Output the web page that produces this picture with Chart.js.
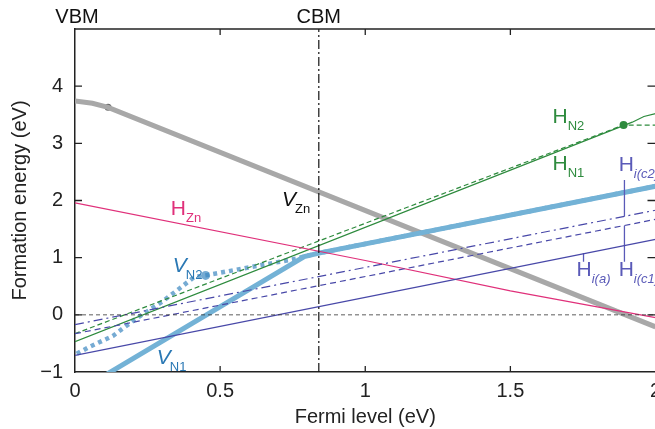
<!DOCTYPE html>
<html>
<head>
<meta charset="utf-8">
<script src="https://cdn.jsdelivr.net/npm/chart.js@4.4.0/dist/chart.umd.min.js"></script>
<style>
  html, body { margin: 0; padding: 0; background: #fff; overflow: hidden; }
  canvas { display: block; }
</style>
</head>
<body>
<canvas id="grafico" width="660" height="429"></canvas>
<script>
/* DATOS */
const xTicks = [0, 0.5, 1, 1.5, 2]
const yTicks = [-1, 0, 1, 2, 3, 4, 5]
const cbm = 0.84

const vznX = [0, 0.06, 0.114, 2]
const vznY = [3.74, 3.70, 3.63, -0.21]
const hznX = [0, 1, 1.5, 2]
const hznY = [1.96, 0.95, 0.42, -0.05]
const hn1X = [0, 1.92, 1.96, 2]
const hn1Y = [-0.47, 3.37, 3.47, 3.52]
const hn2X = [0, 1.89, 2]
const hn2Y = [-0.33, 3.32, 3.32]
const vn1X = [0, 0.79, 0.84, 2]
const vn1Y = [-1.37, 1.02, 1.08, 2.25]
const vn2X = [0.006, 0.05, 0.13, 0.21, 0.30, 0.36, 0.41, 0.45, 0.76, 0.79, 0.84, 2]
const vn2Y = [-0.68, -0.56, -0.37, -0.07, 0.23, 0.46, 0.66, 0.69, 0.98, 1.02, 1.08, 2.25]
const hiaX = [0, 2]
const hiaY = [-0.71, 1.32]
const hic1X = [0, 2]
const hic1Y = [-0.33, 1.67]
const hic2X = [0, 2]
const hic2Y = [-0.17, 1.83]

// conectores de las etiquetas H_i
const conAX = [1.752, 1.752]
const conAY = [1.08, 0.93]
const conC1X = [1.893, 1.893]
const conC1Y = [1.56, 0.93]
const conC2X = [1.893, 1.893]
const conC2Y = [2.36, 1.72]

// puntos marcados
const puntoVzn = [0.114, 3.63]
const puntoHn2 = [1.89, 3.32]
const puntoVn2 = [0.45, 0.69]

// etiquetas: [texto, subindice, x, y, color, cursiva]
const etiquetas = [
  ["V", "Zn", 0.713, 1.9, "#111", true],
  ["H", "Zn", 0.33, 1.74, "#e0307a", false],
  ["H", "N2", 1.645, 3.35, "#2e8b3e", false],
  ["H", "N1", 1.645, 2.53, "#2e8b3e", false],
  ["H", "i(c2)", 1.873, 2.51, "#5a5ab8", false],
  ["H", "i(a)", 1.728, 0.68, "#5a5ab8", false],
  ["H", "i(c1)", 1.873, 0.68, "#5a5ab8", false],
  ["V", "N2", 0.337, 0.75, "#2a78b4", true],
  ["V", "N1", 0.282, -0.86, "#2a78b4", true]
]

/* FUNCIONES */
function puntos(xs, ys) {
  return xs.map((x, i) => ({ x: x, y: ys[i] }))
}

function linea(xs, ys, color, ancho, dash) {
  return {
    type: "line",
    data: puntos(xs, ys),
    borderColor: color,
    borderWidth: ancho,
    borderDash: dash || [],
    pointRadius: 0,
    fill: false,
    tension: 0,
    clip: true
  }
}

function marca(p, color, r) {
  return {
    type: "scatter",
    data: [{ x: p[0], y: p[1] }],
    backgroundColor: color,
    borderWidth: 0,
    pointRadius: r
  }
}

const azulHi = "#4848a8"

const datasets = [
  linea([0, 2], [0, 0], "#333", 0.8, [4, 3]),
  linea([cbm, cbm], [-1, 5], "#111", 1.2, [9, 3, 2, 3]),
  linea(hiaX, hiaY, azulHi, 1.2),
  linea(hic1X, hic1Y, azulHi, 1.2, [6, 4]),
  linea(hic2X, hic2Y, azulHi, 1.2, [9, 4, 2, 4]),
  linea(conAX, conAY, "#5a5ab8", 1.3),
  linea(conC1X, conC1Y, "#5a5ab8", 1.3),
  linea(conC2X, conC2Y, "#5a5ab8", 1.3),
  linea(hznX, hznY, "#e0307a", 1.2),
  linea(hn1X, hn1Y, "#2e8b3e", 1.2),
  linea(hn2X, hn2Y, "#2e8b3e", 1.2, [5, 3]),
  linea(vn1X, vn1Y, "rgb(115,178,214)", 5),
  linea(vn2X, vn2Y, "rgba(60,135,192,0.7)", 4.5, [4, 4]),
  linea(vznX, vznY, "#a8a8a8", 5),
  marca(puntoVzn, "#6a6a6a", 3.5),
  marca(puntoHn2, "#2e8b3e", 4),
  marca(puntoVn2, "rgba(60,135,192,0.7)", 4.5)
]

const fuente = "'Liberation Sans', Arial, sans-serif"

const decoraciones = {
  id: "decoraciones",
  afterDraw(chart) {
    const ctx = chart.ctx
    const xs = chart.scales.x
    const ys = chart.scales.y
    const a = chart.chartArea
    ctx.save()
    // borde superior
    ctx.strokeStyle = "#222"
    ctx.lineWidth = 1.5
    ctx.beginPath()
    ctx.moveTo(a.left, a.top)
    ctx.lineTo(a.right, a.top)
    ctx.stroke()
    // marcas hacia adentro
    ctx.lineWidth = 1.3
    xTicks.slice(1, -1).forEach(v => {
      const px = xs.getPixelForValue(v)
      ctx.beginPath()
      ctx.moveTo(px, a.bottom); ctx.lineTo(px, a.bottom - 6)
      ctx.moveTo(px, a.top); ctx.lineTo(px, a.top + 6)
      ctx.stroke()
    })
    yTicks.slice(1, -1).forEach(v => {
      const py = ys.getPixelForValue(v)
      ctx.beginPath()
      ctx.moveTo(a.left, py); ctx.lineTo(a.left + 7, py)
      ctx.moveTo(a.right, py); ctx.lineTo(a.right - 8, py)
      ctx.stroke()
    })
    // VBM / CBM
    ctx.fillStyle = "#111"
    ctx.font = "20px " + fuente
    ctx.textAlign = "center"
    ctx.textBaseline = "alphabetic"
    ctx.fillText("VBM", xs.getPixelForValue(0) + 2, 23)
    ctx.fillText("CBM", xs.getPixelForValue(cbm), 23)
    // etiquetas de las curvas
    ctx.textAlign = "left"
    etiquetas.forEach(e => {
      const px = xs.getPixelForValue(e[2])
      const py = ys.getPixelForValue(e[3])
      ctx.fillStyle = e[4]
      ctx.font = (e[5] ? "italic " : "") + "21px " + fuente
      ctx.fillText(e[0], px, py)
      const w = ctx.measureText(e[0]).width
      const sub = e[1]
      ctx.font = (sub.startsWith("i") ? "italic " : "") + "13px " + fuente
      ctx.fillText(sub, px + w + (e[5] ? -1 : 0), py + 7)
    })
    ctx.restore()
  }
}

/* GRAFICO */
new Chart(document.querySelector("#grafico"), {
  data: { datasets: datasets },
  options: {
    responsive: false,
    animation: false,
    devicePixelRatio: 1,
    layout: { padding: { top: 29, right: 0, bottom: 0, left: 0 } },
    plugins: { legend: { display: false }, tooltip: { enabled: false } },
    scales: {
      x: {
        type: "linear",
        min: 0,
        max: 2,
        afterBuildTicks: s => { s.ticks = xTicks.map(v => ({ value: v })) },
        afterFit: s => { s.height = 57; s.paddingLeft = 0; s.paddingRight = 0 },
        grid: { display: false, drawTicks: false },
        border: { display: true, color: "#222", width: 1.5 },
        ticks: {
          color: "#222",
          font: { size: 20, family: fuente },
          padding: 7,
          maxRotation: 0,
          callback: v => String(v)
        },
        title: {
          display: true,
          text: "Fermi level (eV)",
          color: "#222",
          font: { size: 20, family: fuente },
          padding: { top: 0, bottom: 0 }
        }
      },
      y: {
        type: "linear",
        min: -1,
        max: 5,
        afterBuildTicks: s => { s.ticks = yTicks.map(v => ({ value: v })) },
        afterFit: s => { s.width = 75; s.paddingTop = 0; s.paddingBottom = 0 },
        grid: { display: false, drawTicks: false },
        border: { display: true, color: "#222", width: 1.5 },
        ticks: {
          color: "#222",
          font: { size: 20, family: fuente },
          padding: 12,
          callback: v => v === 5 ? "" : (v < 0 ? "\u2212" + Math.abs(v) : String(v))
        },
        title: {
          display: true,
          text: "Formation energy (eV)",
          color: "#222",
          font: { size: 20, family: fuente },
          padding: { top: 8, bottom: 0 }
        }
      }
    }
  },
  plugins: [decoraciones]
})
</script>
</body>
</html>
